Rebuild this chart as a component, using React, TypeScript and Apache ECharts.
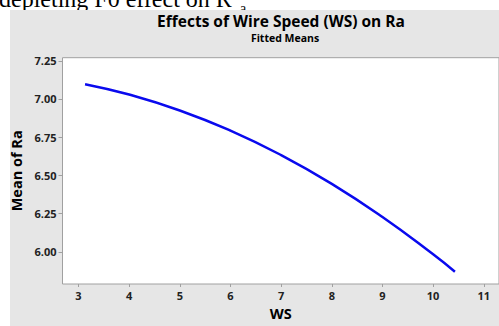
import React, { useEffect, useRef } from "react";
import * as echarts from "echarts";

const wsValues = [3.13, 4, 5, 6, 7, 8, 9, 10, 10.43];
const raMeans = [7.097, 7.029, 6.925, 6.793, 6.633, 6.445, 6.228, 5.984, 5.87];

const titleText = "Effects of Wire Speed (WS) on Ra";
const subtitleText = "Fitted Means";
const xName = "WS";
const yName = "Mean of Ra";

export default function App() {
  const ref = useRef<HTMLDivElement>(null);
  useEffect(() => {
    if (!ref.current) return;
    const chart = echarts.init(ref.current, undefined, { renderer: "svg" });
    const font = "'Open Sans', 'Noto Sans', sans-serif";
    chart.setOption({
      animation: false,
      backgroundColor: "#e6e6e6",
      graphic: [
        { type: "rect", shape: { x: 0, y: 0, width: 499, height: 10 }, style: { fill: "#ffffff" }, z: 100 },
        { type: "rect", shape: { x: 0, y: 0, width: 10, height: 326 }, style: { fill: "#ffffff" }, z: 100 },
        {
          type: "text", x: -1, y: 11, z: 101,
          style: { text: "depleting F0 effect on R", fontFamily: "'Liberation Serif', serif", fontSize: 24, fill: "#000", textVerticalAlign: "bottom", textAlign: "left" },
        },
        {
          type: "text", x: 240, y: 15, z: 101,
          style: { text: "a", fontFamily: "'Liberation Serif', serif", fontSize: 14, fill: "#000", textVerticalAlign: "bottom", textAlign: "left" },
        },
        { type: "rect", shape: { x: 10, y: 10, width: 489, height: 40 }, style: { fill: "#e6e6e6" }, z: 102, silent: true },
        {
          type: "text", x: 281, y: 21, z: 103,
          style: { text: titleText, fontFamily: font, fontSize: 15.5, fontWeight: "bold", fill: "#000", textAlign: "center", textVerticalAlign: "middle" },
        },
        {
          type: "text", x: 285, y: 37.5, z: 103,
          style: { text: subtitleText, fontFamily: font, fontSize: 10.5, fontWeight: "bold", fill: "#000", textAlign: "center", textVerticalAlign: "middle" },
        },
      ],
      grid: {
        left: 62.5, top: 57.7, right: -6.3, bottom: 32.7,
        show: true, backgroundColor: "#ffffff", borderColor: "#a0a0a0", borderWidth: 1,
        containLabel: false,
      },
      xAxis: {
        type: "value", min: 2.685, max: 11.3, minInterval: 1, maxInterval: 1, splitNumber: 8,
        name: xName, nameLocation: "middle", nameGap: 22,
        nameTextStyle: { fontFamily: font, fontSize: 14.5, fontWeight: "bold", color: "#000" },
        axisLine: { show: false },
        axisTick: { show: true, length: 3, lineStyle: { color: "#a0a0a0" } },
        splitLine: { show: false },
        axisLabel: { showMinLabel: false, showMaxLabel: false, margin: 6, fontFamily: font, fontSize: 11, fontWeight: "bold", color: "#222",
          formatter: (v: number) => (Number.isInteger(v) ? String(v) : "") },
      },
      yAxis: {
        type: "value", min: 5.79, max: 7.27, minInterval: 0.25, maxInterval: 0.25, splitNumber: 6,
        name: yName, nameLocation: "middle", nameGap: 37,
        nameTextStyle: { fontFamily: font, fontSize: 14.5, fontWeight: "bold", color: "#000" },
        axisLine: { show: false },
        axisTick: { show: true, length: 4, lineStyle: { color: "#a0a0a0" } },
        splitLine: { show: false },
        axisLabel: { showMinLabel: false, showMaxLabel: false, margin: 6, fontFamily: font, fontSize: 11, fontWeight: "bold", color: "#222",
          formatter: (v: number) => (Math.abs(v * 4 - Math.round(v * 4)) < 1e-6 ? v.toFixed(2) : "") },
      },
      series: [
        {
          type: "line",
          data: wsValues.map((x, i) => [x, raMeans[i]]),
          smooth: true,
          showSymbol: false,
          lineStyle: { color: "#0a0aee", width: 2.5 },
        },
      ],
    });
    return () => chart.dispose();
  }, []);
  return <div ref={ref} style={{ position: "absolute", left: 0, top: 0, width: 499, height: 326 }} />;
}
